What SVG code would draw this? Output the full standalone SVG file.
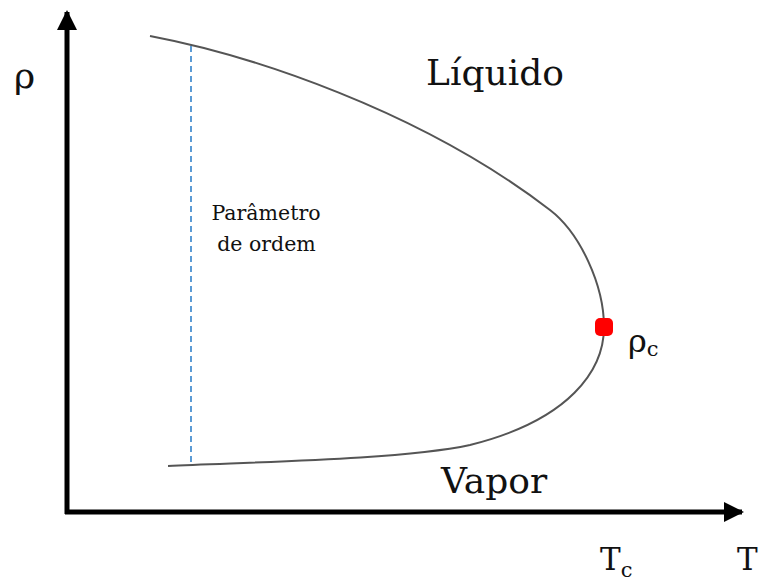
<svg xmlns="http://www.w3.org/2000/svg" width="763" height="585" viewBox="0 0 763 585">
<style>
.t{font-family:"DejaVu Serif","Liberation Serif",serif;fill:#111}
.axis{stroke:#000;stroke-width:5;fill:none}
</style>
<defs>
<marker id="ah" viewBox="0 0 10 10" refX="9" refY="5" markerWidth="4" markerHeight="4" orient="auto" markerUnits="strokeWidth">
<path d="M0,0 L10,5 L0,10 z" fill="#000"/>
</marker>
</defs>
<rect width="763" height="585" fill="#fff"/>
<g id="connectors">
<path class="axis" d="M67,514 L67,12" marker-end="url(#ah)"/>
<path class="axis" d="M65,512 L742,512" marker-end="url(#ah)"/>
<path d="M150,36 C250,55 420,110 550,210 C580,233 604,285 604,327 C604,370 570,420 470,445 C400,460 250,462 168,466" fill="none" stroke="#555" stroke-width="2"/>
<line x1="191" y1="46" x2="191" y2="465" stroke="#5B9BD5" stroke-width="2" stroke-dasharray="6,4"/>
</g>
<g id="critical-point">
<rect x="595" y="318" width="18" height="18" rx="5" fill="#FF0000"/>
</g>
<g id="labels">
<text class="t" x="14" y="88" font-size="36">ρ</text>
<text class="t" x="426" y="85" font-size="36">Líquido</text>
<text class="t" x="266" y="220" font-size="20.5" text-anchor="middle">Parâmetro</text>
<text class="t" x="266.5" y="251" font-size="20.5" text-anchor="middle">de ordem</text>
<text class="t" x="628" y="352" font-size="32">ρ<tspan font-size="21" dy="4">c</tspan></text>
<text class="t" x="441" y="493" font-size="36">Vapor</text>
<text class="t" x="600" y="570" font-size="31">T<tspan font-size="21" dy="7">c</tspan></text>
<text class="t" x="737" y="570" font-size="31">T</text>
</g>
</svg>
